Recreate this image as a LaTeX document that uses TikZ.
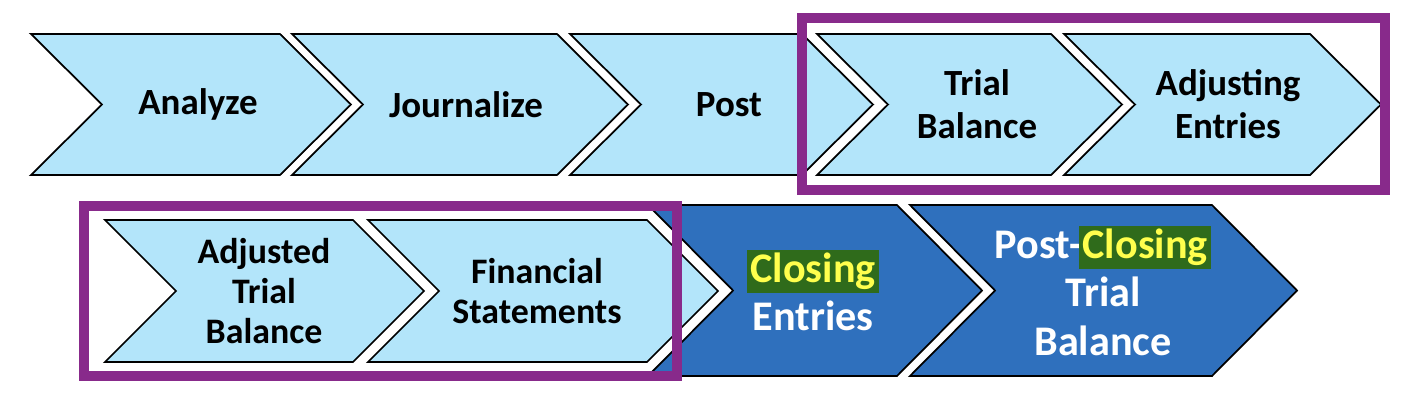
\documentclass[tikz,border=0pt]{standalone}
\usepackage{fontspec}
\setmainfont{Carlito}
\definecolor{chevlight}{RGB}{179, 229, 250}
\definecolor{chevdark}{RGB}{47, 112, 189}
\definecolor{boxpurple}{RGB}{136, 42, 139}
\definecolor{hlgreen}{RGB}{47, 107, 27}
\definecolor{hlyellow}{RGB}{255, 255, 77}
\usepackage{tikz}
\newcommand{\hilite}[1]{{\setlength{\fboxsep}{1pt}\colorbox{hlgreen}{\color{hlyellow}#1}}}

\begin{document}
\begin{tikzpicture}[x=0.01cm, y=-0.01cm,
    chev/.style={draw=black, line width=0.5pt, line join=miter,
      preaction={draw=white, line width=4pt, line join=miter}},
    lightchev/.style={chev, fill=chevlight},
    darkchev/.style={chev, fill=chevdark},
    toptxt/.style={align=center, font=\fontsize{10.5}{12.2}\selectfont\bfseries, text=black},
    lowtxt/.style={align=center, font=\fontsize{10.2}{11.3}\selectfont\bfseries, text=black},
    darktxt/.style={align=center, font=\fontsize{12}{13.7}\selectfont\bfseries, text=white},
    stagebox/.style={draw=boxpurple, line width=2.85pt}]
        \useasboundingbox (0,0) rectangle (1402,412);

        % first row
        \foreach \l/\r/\tx/\nm/\txt in {31/280/198/analyze/Analyze, 292/557/466/journal/Journalize,
            570/802/729/post/Post, 817/1051/977/trial/{Trial\\Balance}, 1064/1310/1228/adjust/{Adjusting\\Entries}} {
          \draw[lightchev] (\l,34) -- (\r,34) -- (\r+71,104.5) -- (\r,175) -- (\l,175) -- (\l+71,104.5) -- cycle;
          \node[toptxt] (\nm) at (\tx,104.5) {\txt};
        }

        % second row, closing steps
        \draw[darkchev] (648,205) -- (897,205) -- (982,290.5) -- (897,376) -- (648,376) -- (733,290.5) -- cycle;
        \node[darktxt] (closing) at (813,290.5) {\hilite{Closing}\\Entries};
        \draw[darkchev] (910,205) -- (1212,205) -- (1297,290.5) -- (1212,376) -- (910,376) -- (995,290.5) -- cycle;
        \node[darktxt] (postclosing) at (1103,290.5) {Post-\kern-0.8pt\hilite{Closing}\\Trial\\Balance};

        % second row, light steps
        \foreach \l/\r/\tx/\nm/\txt in {105/353/264/adjtrial/{Adjusted\\Trial\\Balance}, 368/647/537/finstat/{Financial\\Statements}} {
          \draw[lightchev] (\l,220) -- (\r,220) -- (\r+71,291) -- (\r,362) -- (\l,362) -- (\l+71,291) -- cycle;
          \node[lowtxt] (\nm) at (\tx,291) {\txt};
        }

        \draw[stagebox] (802,18) rectangle (1385,190);
        \draw[stagebox] (84,206) rectangle (677,376);
      \end{tikzpicture}
\end{document}
